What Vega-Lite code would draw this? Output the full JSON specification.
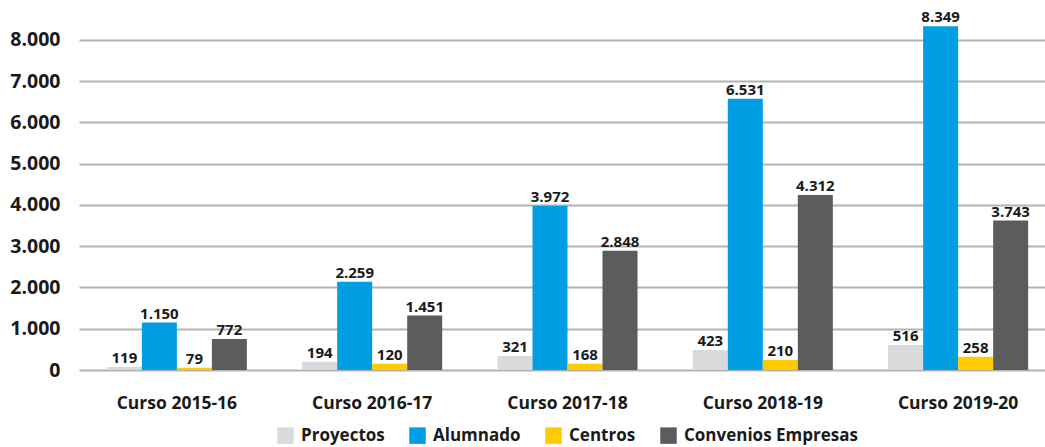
{
  "$schema": "https://vega.github.io/schema/vega-lite/v6.json",
  "autosize": {"type": "none"},
  "padding": {"left": 79, "top": 15, "right": 0, "bottom": 77},
  "width": 977,
  "height": 355,
  "background": "white",
  "config": {
    "view": {"stroke": null},
    "font": "Open Sans",
    "axis": {"labelFont": "Open Sans", "labelFontWeight": "bold", "labelColor": "#1a1a1a"},
    "legend": {"labelFont": "Open Sans", "labelFontWeight": "bold", "labelColor": "#1a1a1a"}
  },
  "data": {
    "values": [
      {"curso": "Curso 2015-16", "serie": "Proyectos", "altura": 70, "etiqueta": "119"},
      {"curso": "Curso 2015-16", "serie": "Alumnado", "altura": 1150, "etiqueta": "1.150"},
      {"curso": "Curso 2015-16", "serie": "Centros", "altura": 55, "etiqueta": "79"},
      {"curso": "Curso 2015-16", "serie": "Convenios Empresas", "altura": 750, "etiqueta": "772"},
      {"curso": "Curso 2016-17", "serie": "Proyectos", "altura": 200, "etiqueta": "194"},
      {"curso": "Curso 2016-17", "serie": "Alumnado", "altura": 2140, "etiqueta": "2.259"},
      {"curso": "Curso 2016-17", "serie": "Centros", "altura": 150, "etiqueta": "120"},
      {"curso": "Curso 2016-17", "serie": "Convenios Empresas", "altura": 1320, "etiqueta": "1.451"},
      {"curso": "Curso 2017-18", "serie": "Proyectos", "altura": 340, "etiqueta": "321"},
      {"curso": "Curso 2017-18", "serie": "Alumnado", "altura": 3980, "etiqueta": "3.972"},
      {"curso": "Curso 2017-18", "serie": "Centros", "altura": 150, "etiqueta": "168"},
      {"curso": "Curso 2017-18", "serie": "Convenios Empresas", "altura": 2890, "etiqueta": "2.848"},
      {"curso": "Curso 2018-19", "serie": "Proyectos", "altura": 485, "etiqueta": "423"},
      {"curso": "Curso 2018-19", "serie": "Alumnado", "altura": 6570, "etiqueta": "6.531"},
      {"curso": "Curso 2018-19", "serie": "Centros", "altura": 240, "etiqueta": "210"},
      {"curso": "Curso 2018-19", "serie": "Convenios Empresas", "altura": 4240, "etiqueta": "4.312"},
      {"curso": "Curso 2019-20", "serie": "Proyectos", "altura": 606, "etiqueta": "516"},
      {"curso": "Curso 2019-20", "serie": "Alumnado", "altura": 8330, "etiqueta": "8.349"},
      {"curso": "Curso 2019-20", "serie": "Centros", "altura": 320, "etiqueta": "258"},
      {"curso": "Curso 2019-20", "serie": "Convenios Empresas", "altura": 3620, "etiqueta": "3.743"}
    ]
  },
  "encoding": {
    "x": {
      "field": "curso", "type": "nominal", "sort": null,
      "scale": {"paddingInner": 0.283, "paddingOuter": 0.1426},
      "axis": {"title": null, "labelAngle": 0, "labelFontSize": 17.5, "ticks": false, "domain": false, "labelPadding": 24, "grid": false}
    },
    "xOffset": {
      "field": "serie", "type": "nominal",
      "sort": ["Proyectos", "Alumnado", "Centros", "Convenios Empresas"],
      "scale": {"paddingInner": 0, "paddingOuter": 0}
    },
    "y": {
      "field": "altura", "type": "quantitative",
      "scale": {"domain": [0, 8600], "nice": false},
      "axis": {
        "title": null,
        "values": [0, 1000, 2000, 3000, 4000, 5000, 6000, 7000, 8000],
        "labelExpr": "replace(format(datum.value, ',d'), ',', '.')",
        "labelFontSize": 19.5,
        "labelPadding": 19,
        "ticks": false, "domain": false,
        "grid": true, "gridColor": "#b3b3b3", "gridWidth": 2
      }
    }
  },
  "layer": [
    {
      "mark": {"type": "bar"},
      "encoding": {
        "color": {
          "field": "serie", "type": "nominal",
          "scale": {
            "domain": ["Proyectos", "Alumnado", "Centros", "Convenios Empresas"],
            "range": ["#d9dadb", "#009fe3", "#ffcc00", "#5b5c5e"]
          },
          "legend": {
            "title": null, "orient": "none", "direction": "horizontal",
            "legendX": 198, "legendY": 412,
            "symbolType": "square", "symbolSize": 272, "symbolStrokeWidth": 0,
            "labelFontSize": 17, "labelLimit": 400, "columnPadding": 24, "labelOffset": 7
          }
        }
      }
    },
    {
      "mark": {"type": "text", "baseline": "alphabetic", "dy": -4, "fontSize": 15, "fontWeight": "bold", "color": "#1a1a1a", "font": "Open Sans"},
      "encoding": {"text": {"field": "etiqueta", "type": "nominal"}}
    }
  ]
}
